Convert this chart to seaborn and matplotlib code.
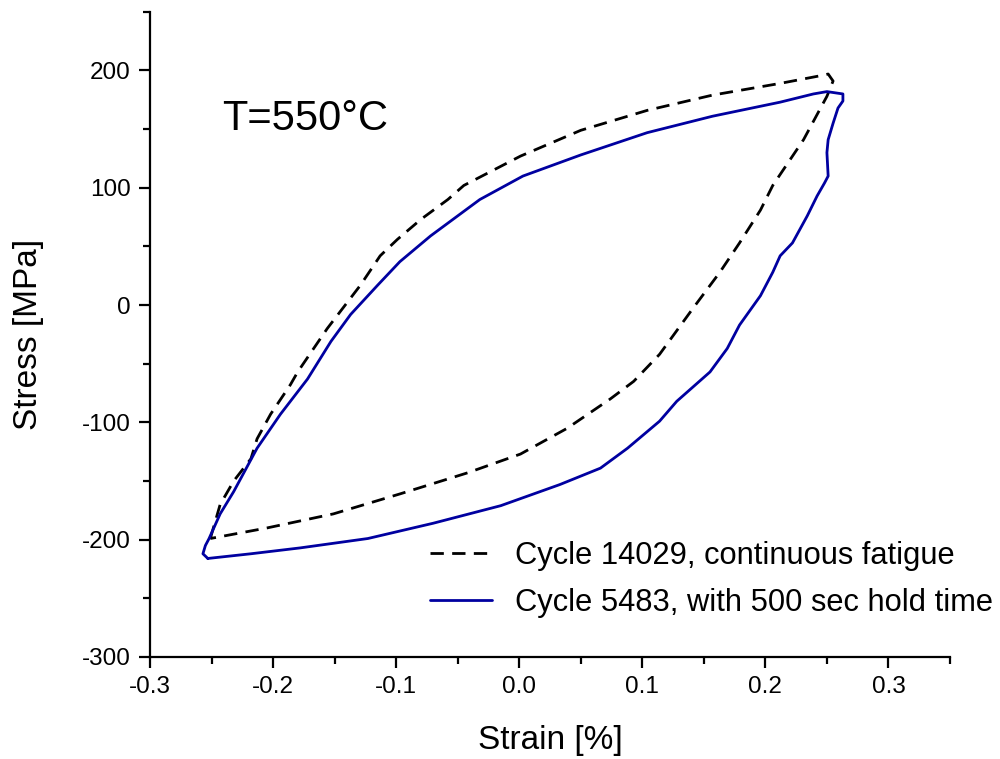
import numpy as np
import pandas as pd
import matplotlib
matplotlib.use('Agg')
import matplotlib.pyplot as plt
import seaborn as sns

# hysteresis loop, continuous fatigue (cycle 14029)
cont_strain = [-0.251, -0.243, -0.232, -0.218, -0.213, -0.202, -0.186, -0.180, -0.156, -0.129,
               -0.113, -0.099, -0.080, -0.058, -0.045, 0.001, 0.050, 0.104, 0.157, 0.212,
               0.247, 0.251, 0.255, 0.250, 0.231, 0.206, 0.196, 0.179, 0.163, 0.141,
               0.114, 0.093, 0.074, 0.039, 0.001, -0.042, -0.097, -0.151, -0.205, -0.251]
cont_stress = [-199, -170, -150, -131, -114, -93, -68, -57, -20, 17,
               42, 56, 73, 90, 102, 127, 149, 166, 179, 189,
               196, 197, 191, 178, 141, 102, 81, 53, 28, -3,
               -42, -65, -80, -105, -127, -143, -161, -178, -190, -199]

# hysteresis loop with 500 s hold time (cycle 5483)
hold_strain = [-0.253, -0.257, -0.255, -0.252, -0.243, -0.232, -0.213, -0.194, -0.172, -0.153,
               -0.137, -0.115, -0.097, -0.072, -0.032, 0.003, 0.050, 0.104, 0.157, 0.212,
               0.239, 0.250, 0.263, 0.263, 0.259, 0.255, 0.251, 0.250, 0.251, 0.248,
               0.242, 0.234, 0.222, 0.212, 0.206, 0.196, 0.179, 0.169, 0.155, 0.128,
               0.114, 0.088, 0.066, 0.033, -0.015, -0.070, -0.123, -0.178, -0.218, -0.253]
hold_stress = [-216, -212, -205, -199, -178, -159, -122, -93, -63, -31,
               -8, 17, 37, 59, 90, 110, 128, 147, 161, 173,
               180, 182, 180, 174, 168, 155, 141, 130, 110, 104,
               93, 76, 53, 42, 28, 8, -17, -37, -57, -82,
               -99, -122, -139, -153, -171, -186, -199, -207, -212, -216]

labels = ['Cycle 14029, continuous fatigue', 'Cycle 5483, with 500 sec hold time']

sns.set_theme(style='ticks')
plt.rcParams['font.family'] = ['Liberation Sans', 'DejaVu Sans']
plt.rcParams['axes.unicode_minus'] = False
plt.rcParams['text.color'] = 'black'
plt.rcParams['axes.labelcolor'] = 'black'

fig = plt.figure(figsize=(10, 7.59), dpi=100)
ax = fig.add_axes([0.15, 0.1344, 0.80, 0.850])

df_cont = pd.DataFrame({'strain': cont_strain, 'stress': cont_stress})
df_hold = pd.DataFrame({'strain': hold_strain, 'stress': hold_stress})

sns.lineplot(data=df_cont, x='strain', y='stress', sort=False, estimator=None, ax=ax,
             color='black', linewidth=2.0, label=labels[0])
ax.lines[-1].set_dashes((4.8, 3.0))
sns.lineplot(data=df_hold, x='strain', y='stress', sort=False, estimator=None, ax=ax,
             color='#0000a0', linewidth=2.0, label=labels[1])

ax.set_xlim(-0.3, 0.35)
ax.set_ylim(-300, 250)
ax.set_xticks([-0.3, -0.2, -0.1, 0.0, 0.1, 0.2, 0.3])
ax.set_xticklabels(['-0.3', '-0.2', '-0.1', '0.0', '0.1', '0.2', '0.3'])
ax.set_xticks(np.arange(-0.25, 0.36, 0.1), minor=True)
ax.set_yticks([-300, -200, -100, 0, 100, 200])
ax.set_yticks([-250, -150, -50, 50, 150, 250], minor=True)

for s in ['top', 'right']:
    ax.spines[s].set_visible(False)
for s in ['left', 'bottom']:
    ax.spines[s].set_linewidth(1.6)
    ax.spines[s].set_color('black')

ax.tick_params(which='major', direction='out', length=8, width=1.6, labelsize=17.5,
               colors='black', pad=6)
ax.tick_params(which='minor', direction='out', length=5, width=1.6, colors='black')

ax.set_xlabel('Strain [%]', fontsize=24, labelpad=19)
ax.set_ylabel('Stress [MPa]', fontsize=24, labelpad=27)

fig.text(0.222, 1 - 130 / 759, 'T=550°C', fontsize=30, va='baseline', ha='left')

ax.legend(loc='upper left', bbox_to_anchor=(0.43, 1 - 541 / 759),
          bbox_transform=fig.transFigure, frameon=False, fontsize=22.2,
          borderpad=0, borderaxespad=0, handlelength=2.0, handletextpad=0.75,
          labelspacing=0.55)

fig.savefig('out.png', dpi=100)
